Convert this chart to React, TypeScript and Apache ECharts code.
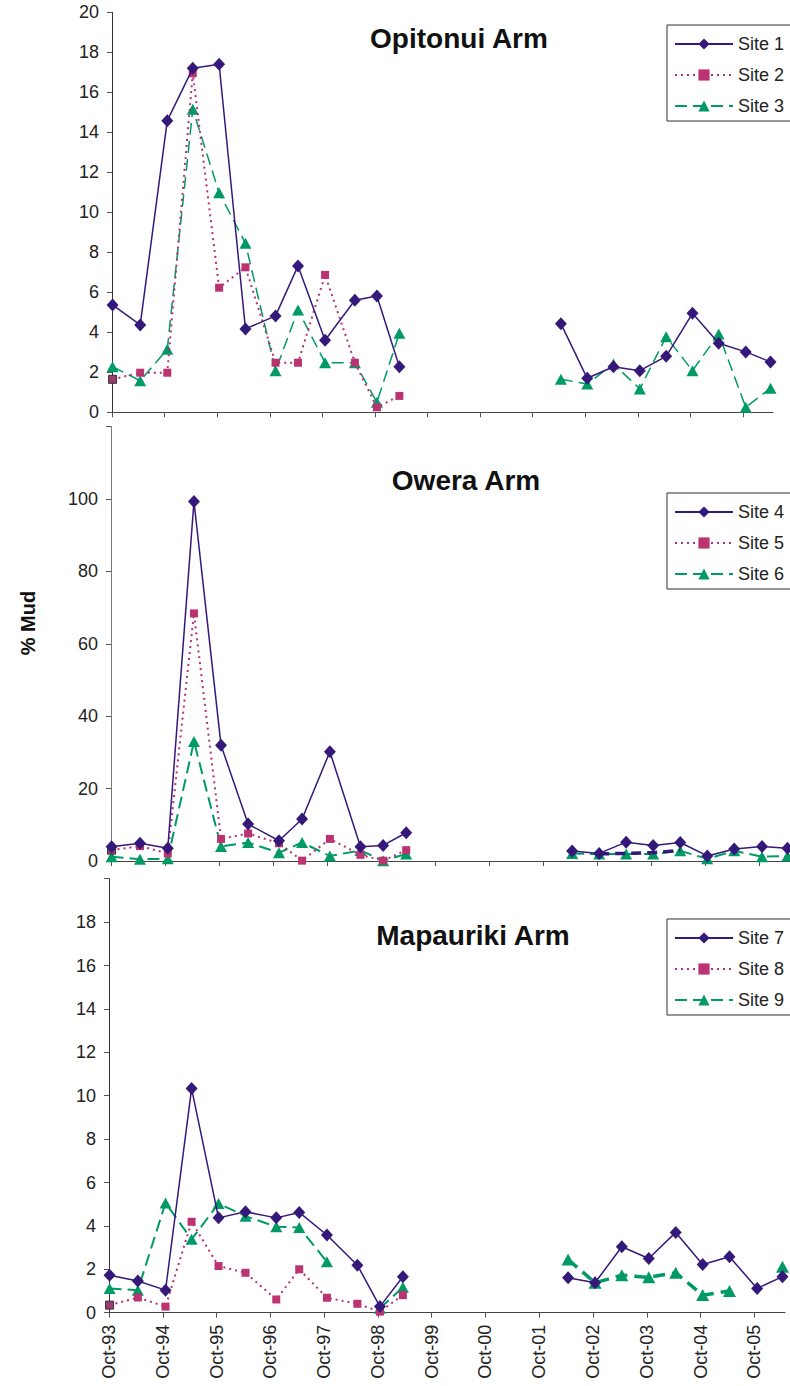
import React, { useEffect, useRef } from "react";
import * as echarts from "echarts";

// Sampling dates (shared by all sites)
const sampleDates = [
  "1993-10-05", "1994-04-15", "1994-10-20", "1995-04-15", "1995-10-15", "1996-04-15",
  "1996-11-10", "1997-04-15", "1997-10-20", "1998-05-15", "1998-10-15", "1999-03-20",
  "2002-04-15", "2002-10-15", "2003-04-15", "2003-10-15", "2004-04-15", "2004-10-15",
  "2005-04-15", "2005-10-20", "2006-04-10",
];
const GAP_INDEX = 12; // no sampling between 1999 and 2002

const yearTickLabels = [
  "Oct-93", "Oct-94", "Oct-95", "Oct-96", "Oct-97", "Oct-98", "Oct-99",
  "Oct-00", "Oct-01", "Oct-02", "Oct-03", "Oct-04", "Oct-05",
];

const N = null;
// Opitonui Arm
const site1 = [5.37, 4.37, 14.58, 17.2, 17.4, 4.17, 4.82, 7.32, 3.6, 5.6, 5.82, 2.28, 4.43, 1.7, 2.28, 2.08, 2.8, 4.95, 3.45, 3.02, 2.52];
const site2 = [1.65, 1.98, 1.98, 16.95, 6.23, 7.25, 2.48, 2.48, 6.87, 2.48, 0.25, 0.82, N, N, N, N, N, N, N, N, N];
const site3 = [2.28, 1.58, 3.15, 15.15, 10.98, 8.45, 2.08, 5.12, 2.48, 2.48, 0.5, 3.95, 1.65, 1.42, 2.42, 1.17, 3.78, 2.08, 3.92, 0.25, 1.2];
// Owera Arm
const site4 = [3.96, 4.9, 3.5, 99.3, 32.0, 10.2, 5.6, 11.6, 30.2, 3.96, 4.3, 7.8, 2.76, 2.1, 5.2, 4.3, 5.1, 1.4, 3.3, 4.0, 3.5];
const site5 = [3.0, 4.1, 2.1, 68.4, 6.1, 7.6, 4.9, 0.1, 6.1, 1.7, 0.1, 3.0, N, N, N, N, N, N, N, N, N];
const site5Recent = [N, N, N, N, N, N, N, N, N, N, N, N, N, 2.0, 2.1, 2.3, 2.9, N, N, N, N];
const site6 = [1.2, 0.5, 0.6, 33.0, 4.0, 5.1, 2.3, 5.1, 1.4, 2.9, 0.1, 1.9, 2.1, 1.9, 1.9, 1.9, 2.8, 0.6, 2.8, 1.2, 1.4];
// Mapauriki Arm
const site7 = [1.73, 1.46, 1.04, 10.33, 4.37, 4.65, 4.37, 4.62, 3.58, 2.19, 0.28, 1.66, 1.61, 1.38, 3.04, 2.5, 3.7, 2.22, 2.58, 1.12, 1.66];
const site8 = [0.35, 0.7, 0.28, 4.19, 2.15, 1.84, 0.61, 2.0, 0.69, 0.41, 0.05, 0.81, N, N, N, N, N, N, N, N, N];
const site9 = [1.12, 1.04, 5.06, 3.38, 5.03, 4.45, 3.96, 3.93, 2.35, N, 0.2, 1.17, N, N, N, N, N, N, N, N, N];
const site9Recent = [N, N, N, N, N, N, N, N, N, N, N, N, 2.45, 1.38, 1.73, 1.63, 1.84, 0.81, 1.0, N, 2.12];

const panelTitles = ["Opitonui Arm", "Owera Arm", "Mapauriki Arm"];
const yAxisTitle = "% Mud";

const FONT = '"Liberation Sans", Arial, sans-serif';
const PURPLE = "#35197a";
const PINK = "#bb3370";
const GREEN = "#009a66";
const X_MAX = 12.57;

const origin = Date.parse("1993-10-01");
const toYears = (d: string) => (Date.parse(d) - origin) / (365.25 * 86400000);

function points(vals: (number | null)[], firstSquare = false) {
  const out: any[] = [];
  vals.forEach((v, i) => {
    if (i === GAP_INDEX) {
      out.push([(toYears(sampleDates[i - 1]) + toYears(sampleDates[i])) / 2, "-"]);
    }
    const x = toYears(sampleDates[i]);
    if (firstSquare && i === 0 && v != null) {
      out.push({ value: [x, v], itemStyle: { color: "#9c3b72", borderColor: "#333", borderWidth: 1 } });
    } else {
      out.push([x, v == null ? "-" : v]);
    }
  });
  return out;
}

type Kind = "diamond" | "square" | "triangle";
function mkSeries(name: string, kind: Kind, vals: (number | null)[], idx: number, extra: any = {}) {
  const base: any = {
    name,
    type: "line",
    xAxisIndex: idx,
    yAxisIndex: idx,
    connectNulls: false,
    animation: false,
    z: kind === "diamond" ? 4 : kind === "square" ? 3 : 2,
  };
  if (kind === "diamond") {
    Object.assign(base, {
      symbol: "diamond",
      symbolSize: [12, 13],
      itemStyle: { color: PURPLE },
      lineStyle: { color: PURPLE, width: 1.5, type: "solid" },
      data: points(vals),
    });
  } else if (kind === "square") {
    Object.assign(base, {
      symbol: "rect",
      symbolSize: 8,
      itemStyle: { color: PINK },
      lineStyle: { color: "#b53070", width: 2, type: [2, 4] },
      data: points(vals, true),
    });
  } else {
    Object.assign(base, {
      symbol: "triangle",
      symbolSize: [12, 11],
      itemStyle: { color: GREEN },
      lineStyle: { color: GREEN, width: 1.5, type: [12, 6] },
      data: points(vals),
    });
  }
  return Object.assign(base, extra);
}

const grids = [
  { left: 112, top: 12.3, width: 661, height: 400 },
  { left: 111, top: 426.6, width: 682, height: 434.4 },
  { left: 109, top: 878.7, width: 676, height: 434 },
];
const yMax = [20, 120, 20];
const yInterval = [2, 20, 2];
const yLabelMaxShown = [20, 100, 18];
const legendTops = [25, 493, 919];
const titlePos = [
  [459, 38],
  [466, 480],
  [473, 935],
];

export default function App() {
  const ref = useRef<HTMLDivElement>(null);
  useEffect(() => {
    if (!ref.current) return;
    const chart = echarts.init(ref.current, null, { renderer: "svg" });
    const ticks = yearTickLabels.map((_, i) => i);
    const option: any = {
      animation: false,
      backgroundColor: "#fff",
      grid: grids.map((g) => ({ ...g, containLabel: false })),
      xAxis: grids.map((_, i) => ({
        type: "value",
        gridIndex: i,
        min: 0,
        max: X_MAX,
        interval: 1,
        splitLine: { show: false },
        axisLine: { show: true, onZero: false, lineStyle: { color: "#444", width: 1 } },
        axisTick: { show: true, length: 5, customValues: ticks, lineStyle: { color: "#555" } },
        axisLabel: {
          show: i === 2,
          customValues: ticks,
          rotate: 90,
          margin: 12,
          fontSize: 18,
          fontFamily: FONT,
          color: "#222",
          formatter: (v: number) => yearTickLabels[Math.round(v)] ?? "",
        },
      })),
      yAxis: grids.map((_, i) => ({
        type: "value",
        gridIndex: i,
        min: 0,
        max: yMax[i],
        interval: yInterval[i],
        splitLine: { show: false },
        axisLine: { show: true, lineStyle: { color: i === 1 ? "#777" : "#333", width: 1 } },
        axisTick: { show: true, length: 5, lineStyle: { color: "#555" } },
        axisLabel: {
          margin: 13,
          fontSize: 18,
          fontFamily: FONT,
          color: "#222",
          formatter: (v: number) => (v <= yLabelMaxShown[i] ? String(v) : ""),
        },
      })),
      legend: [0, 1, 2].map((i) => ({
        data: [`Site ${i * 3 + 1}`, `Site ${i * 3 + 2}`, `Site ${i * 3 + 3}`],
        orient: "vertical",
        left: 667,
        top: legendTops[i],
        itemWidth: 58,
        itemHeight: 14,
        itemGap: 13,
        padding: [10, 24, 6, 7],
        borderColor: "#333",
        borderWidth: 1,
        backgroundColor: "#fff",
        selectedMode: false,
        textStyle: { fontSize: 18, lineHeight: 18, color: "#222", fontFamily: FONT },
      })),
      graphic: [
        ...panelTitles.map((t, i) => ({
          type: "text",
          x: titlePos[i][0],
          y: titlePos[i][1],
          style: {
            text: t,
            font: `bold 28px ${FONT}`,
            fill: "#111",
            align: "center",
            verticalAlign: "middle",
          },
        })),
        {
          type: "text",
          x: 28,
          y: 623,
          rotation: Math.PI / 2,
          style: {
            text: yAxisTitle,
            font: `bold 20px ${FONT}`,
            fill: "#111",
            align: "center",
            verticalAlign: "middle",
          },
        },
      ],
      series: [
        mkSeries("Site 1", "diamond", site1, 0),
        mkSeries("Site 2", "square", site2, 0),
        mkSeries("Site 3", "triangle", site3, 0),
        mkSeries("Site 4", "diamond", site4, 1),
        mkSeries("Site 5", "square", site5, 1),
        mkSeries("Site 6", "triangle", site6, 1, { lineStyle: { color: GREEN, width: 2, type: [12, 6] } }),
        mkSeries("Site 5 (2002-04)", "diamond", site5Recent, 1, {
          symbol: "none",
          lineStyle: { color: PURPLE, width: 3.5, type: [10, 6] },
          z: 5,
        }),
        mkSeries("Site 7", "diamond", site7, 2),
        mkSeries("Site 8", "square", site8, 2),
        mkSeries("Site 9", "triangle", site9, 2, { lineStyle: { color: GREEN, width: 2, type: [12, 6] } }),
        mkSeries("Site 9", "triangle", site9Recent, 2, {
          symbolSize: [13, 12],
          lineStyle: { color: GREEN, width: 3.5, type: [12, 7] },
        }),
      ],
    };
    chart.setOption(option);
    return () => chart.dispose();
  }, []);
  return (
    <div
      ref={ref}
      style={{ position: "absolute", left: 0, top: 0, width: 790, height: 1386, overflow: "hidden" }}
    />
  );
}
